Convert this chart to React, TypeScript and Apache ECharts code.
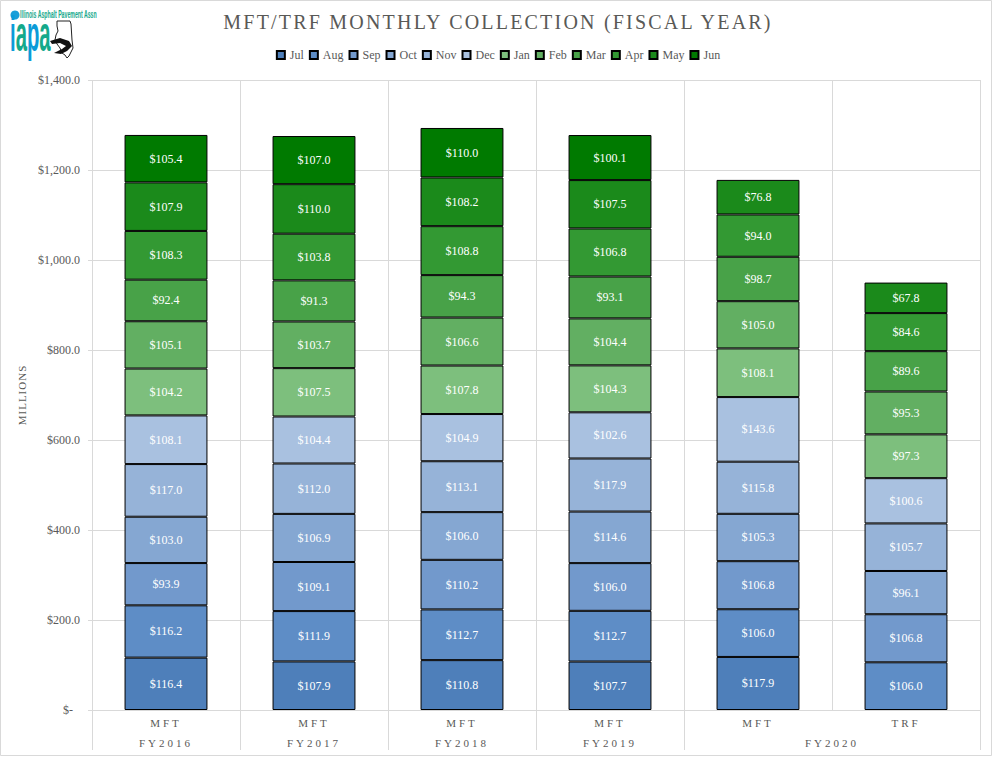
import React, { useEffect, useRef } from 'react';
import * as echarts from 'echarts';

const months = ['Jul', 'Aug', 'Sep', 'Oct', 'Nov', 'Dec', 'Jan', 'Feb', 'Mar', 'Apr', 'May', 'Jun'];
const fundTypes = ['MFT', 'MFT', 'MFT', 'MFT', 'MFT', 'TRF'];
const fiscalYears = ['FY2016', 'FY2017', 'FY2018', 'FY2019', 'FY2020'];
const fiscalYearSpans = [1, 1, 1, 1, 2];

// $ millions, one entry per column (FY2016 MFT ... FY2020 MFT, FY2020 TRF)
const jul = [116.4, 107.9, 110.8, 107.7, 117.9, null];
const aug = [116.2, 111.9, 112.7, 112.7, 106.0, 106.0];
const sep = [93.9, 109.1, 110.2, 106.0, 106.8, 106.8];
const oct = [103.0, 106.9, 106.0, 114.6, 105.3, 96.1];
const nov = [117.0, 112.0, 113.1, 117.9, 115.8, 105.7];
const dec = [108.1, 104.4, 104.9, 102.6, 143.6, 100.6];
const jan = [104.2, 107.5, 107.8, 104.3, 108.1, 97.3];
const feb = [105.1, 103.7, 106.6, 104.4, 105.0, 95.3];
const mar = [92.4, 91.3, 94.3, 93.1, 98.7, 89.6];
const apr = [108.3, 103.8, 108.8, 106.8, 94.0, 84.6];
const may = [107.9, 110.0, 108.2, 107.5, 76.8, 67.8];
const jun = [105.4, 107.0, 110.0, 100.1, null, null];

const monthValues = [jul, aug, sep, oct, nov, dec, jan, feb, mar, apr, may, jun];

const monthColors = [
  '#4e7fba', '#5e8dc6', '#7299cc', '#85a7d2', '#96b3d8', '#a9c1e0',
  '#7dbf7d', '#62af62', '#48a248', '#339933', '#1b8a1b', '#007a00'
];

const serif = '"Liberation Serif", "Times New Roman", serif';
const narrow = '"Liberation Sans Narrow", "Liberation Sans", sans-serif';
const grey = '#595959';
// near-identical greys so the css below can letter-space these texts only
const greyWide = '#595958';
const greyName = '#595957';
const greyTitle = '#595956';

function isGroupStart(index: number) {
  let s = 0;
  for (const span of fiscalYearSpans) {
    if (s === index) return true;
    s += span;
  }
  return false;
}

export default function App() {
  const chartRef = useRef<HTMLDivElement>(null);

  useEffect(() => {
    if (!chartRef.current) return;
    document.body.style.margin = '0';
    const chart = echarts.init(chartRef.current, undefined, { renderer: 'svg' });

    // centres of the fiscal year groups on the second label row
    const fyCenters: number[] = [];
    let start = 0;
    fiscalYearSpans.forEach((span) => {
      fyCenters.push(start + span / 2);
      start += span;
    });

    const option = {
      animation: false,
      backgroundColor: '#fff',
      legend: {
        top: 44,
        left: 'center',
        icon: 'rect',
        itemWidth: 8,
        itemHeight: 8,
        itemGap: 5,
        textStyle: { fontFamily: serif, fontSize: 12, color: grey },
        data: months
      },
      grid: { left: 92, right: 16, top: 80, bottom: 47 },
      xAxis: [
        {
          type: 'category',
          data: fundTypes,
          axisLine: { lineStyle: { color: '#d9d9d9' } },
          axisTick: {
            show: true,
            length: 40,
            interval: (index: number) => isGroupStart(index),
            lineStyle: { color: '#d9d9d9' }
          },
          splitLine: { show: true, lineStyle: { color: '#d9d9d9' } },
          axisLabel: { fontFamily: serif, fontSize: 11, color: greyWide, margin: 7 }
        },
        {
          type: 'value',
          position: 'bottom',
          offset: 20,
          min: 0,
          max: fundTypes.length,
          axisLine: { show: false },
          axisTick: { show: false },
          splitLine: { show: false },
          axisLabel: {
            customValues: fyCenters,
            fontFamily: serif,
            fontSize: 11,
            color: greyWide,
            margin: 7,
            formatter: (v: number) => fiscalYears[fyCenters.indexOf(v)] ?? ''
          }
        }
      ],
      yAxis: {
        type: 'value',
        min: 0,
        max: 1400,
        interval: 200,
        name: 'MILLIONS',
        nameLocation: 'middle',
        nameGap: 58,
        nameTextStyle: { fontFamily: serif, fontSize: 11, color: greyName },
        axisLine: { show: false },
        axisTick: { show: true, length: 4, lineStyle: { color: '#d9d9d9' } },
        splitLine: { lineStyle: { color: '#d9d9d9' } },
        axisLabel: {
          fontFamily: serif,
          fontSize: 12,
          color: grey,
          margin: 12,
          formatter: (v: number) =>
            v === 0 ? '{z|$-}' : '$' + v.toLocaleString('en-US', { minimumFractionDigits: 1, maximumFractionDigits: 1 }),
          rich: { z: { fontFamily: serif, fontSize: 12, color: grey, padding: [0, 7, 0, 0] } }
        }
      },
      graphic: [
        {
          type: 'rect',
          shape: { x: 0.5, y: 0.5, width: 991, height: 755 },
          style: { fill: 'none', stroke: '#d9d9d9', lineWidth: 1 },
          silent: true
        },
        {
          type: 'text',
          x: 498,
          y: 22,
          style: {
            text: 'MFT/TRF MONTHLY COLLECTION (FISCAL YEAR)',
            textAlign: 'center',
            textVerticalAlign: 'middle',
            fontFamily: serif,
            fontSize: 20,
            fill: greyTitle
          }
        },
        // IAPA logo
        { type: 'circle', shape: { cx: 15, cy: 15, r: 4.5 }, style: { fill: '#1a9fd9' } },
        {
          type: 'text',
          x: 20,
          y: 10,
          scaleX: 0.52,
          style: {
            text: 'Illinois Asphalt Pavement Assn',
            fontFamily: narrow,
            fontWeight: 'bold',
            fontSize: 10,
            fill: '#17a98c'
          }
        },
        {
          type: 'polygon',
          shape: {
            points: [
              [57, 21], [70, 21], [71, 24], [72, 40], [73, 48], [71, 52], [69, 56], [67, 58],
              [65, 55], [62, 53], [60, 48], [57, 44], [55, 40], [56, 35], [58, 31], [57, 26]
            ]
          },
          style: { fill: '#fff', stroke: '#222', lineWidth: 1 }
        },
        {
          type: 'polygon',
          shape: {
            points: [
              [50, 41], [60, 38], [69, 41], [72, 46], [67, 51], [61, 54], [54, 53],
              [62, 49], [66, 46], [60, 43], [52, 44]
            ]
          },
          style: { fill: '#111' }
        },
        {
          type: 'text',
          x: 10,
          y: 8,
          scaleX: 0.78,
          scaleY: 1.95,
          style: {
            text: '{b|i}{g|a}{b|p}{g|a}',
            rich: {
              b: { fontFamily: narrow, fontWeight: 'bold', fontSize: 26, fill: '#0b9bd8' },
              g: { fontFamily: narrow, fontWeight: 'bold', fontSize: 26, fill: '#14a98b' }
            }
          }
        }
      ],
      series: months.map((m, i) => ({
        name: m,
        type: 'bar',
        stack: 'collection',
        xAxisIndex: 0,
        barWidth: '56%',
        data: monthValues[i],
        itemStyle: { color: monthColors[i], borderColor: '#000', borderWidth: 1 },
        label: {
          show: true,
          position: 'inside',
          fontFamily: serif,
          fontSize: 12,
          color: '#ffffff',
          formatter: (p: any) => '$' + Number(p.value).toFixed(1)
        },
        emphasis: { disabled: true }
      }))
    } as any;

    chart.setOption(option);
    return () => chart.dispose();
  }, []);

  return (
    <>
      <style>{`
        #mft-chart text[fill="${greyWide}"] { letter-spacing: 3px; }
        #mft-chart text[fill="${greyName}"] { letter-spacing: 1px; }
        #mft-chart text[fill="${greyTitle}"] { letter-spacing: 2.2px; }
      `}</style>
      <div id="mft-chart" ref={chartRef} style={{ width: 996, height: 757 }} />
    </>
  );
}
